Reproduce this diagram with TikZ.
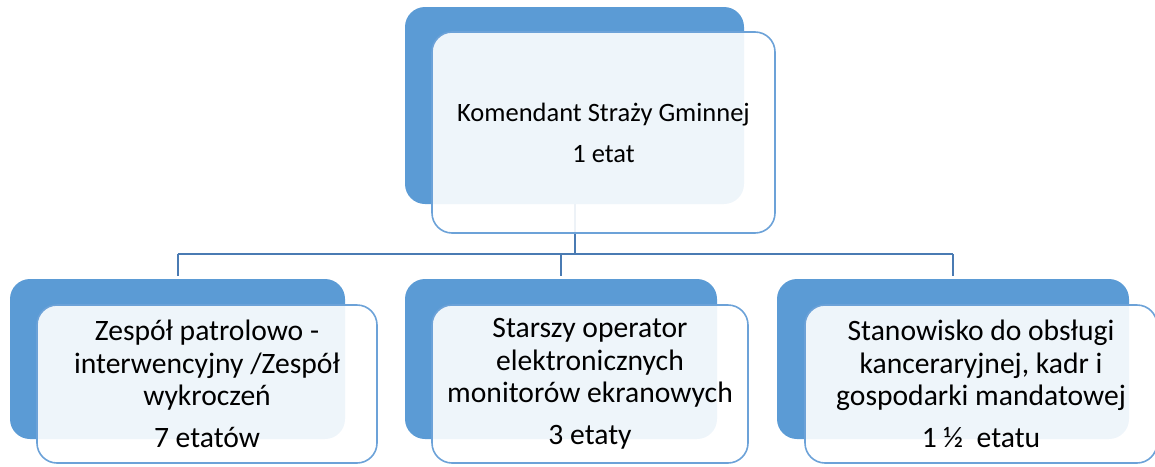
\documentclass[tikz,border=0pt]{standalone}
\usepackage{fontspec}
\setmainfont{Carlito}
\definecolor{accblue}{HTML}{5B9BD5}
\definecolor{edgeblue}{HTML}{6CA2D8}
\definecolor{linkblue}{HTML}{4A7BB3}
\begin{document}
\begin{tikzpicture}[x=1pt,y=-1pt,
  backbox/.style={rectangle, rounded corners=20pt, fill=accblue, draw=none, inner sep=0pt, outer sep=0pt},
  frontbox/.style={rectangle, rounded corners=20pt, fill=white, fill opacity=0.9, text opacity=1, draw=edgeblue, line width=1.6pt, inner sep=0pt, outer sep=0pt, align=center},
  topfont/.style={font=\fontsize{26.5}{32}\selectfont},
  lowfont/.style={font=\fontsize{29.6}{32.5}\selectfont},
  link/.style={draw=linkblue, line width=2pt}]
\useasboundingbox (0,0) rectangle (1155,466);
% back boxes
\node[backbox, minimum width=339pt, minimum height=197pt] (topb) at (574.5,105.5) {};
\node[backbox, minimum width=335pt, minimum height=160pt] (leftb) at (177.5,359) {};
\node[backbox, minimum width=312pt, minimum height=160pt] (midb) at (561,359) {};
\node[backbox, minimum width=352pt, minimum height=160pt] (rightb) at (953,359) {};
% connectors
\coordinate (bus) at (574,254);
\draw[link] (topb.south) -- (topb.south |- bus);
\draw[link] (leftb.north |- bus) -- (rightb.north |- bus);
\draw[link] (leftb.north |- bus) -- ([yshift=3pt]leftb.north);
\draw[link] (midb.north |- bus) -- ([yshift=3pt]midb.north);
\draw[link] (rightb.north |- bus) -- ([yshift=3pt]rightb.north);
% front boxes
\node[frontbox, topfont, minimum width=343pt, minimum height=201pt] (topf) at (603.5,132.5) {Komendant Straży Gminnej\\[9pt]1 etat};
\node[frontbox, lowfont, minimum width=340pt, minimum height=158pt] (leftf) at (207,384) {Zespół patrolowo -\\interwencyjny /Zespół\\wykroczeń\\[9.5pt]7 etatów};
\node[frontbox, lowfont, minimum width=316pt, minimum height=158pt] (midf) at (590,384) {Starszy operator\\elektronicznych\\monitorów ekranowych\\[9.5pt]3 etaty};
\node[frontbox, lowfont, minimum width=352pt, minimum height=158pt] (rightf) at (981,384) {Stanowisko do obsługi\\kanceraryjnej, kadr i\\gospodarki mandatowej\\[9.5pt]1 ½~ etatu};
\end{tikzpicture}
\end{document}
